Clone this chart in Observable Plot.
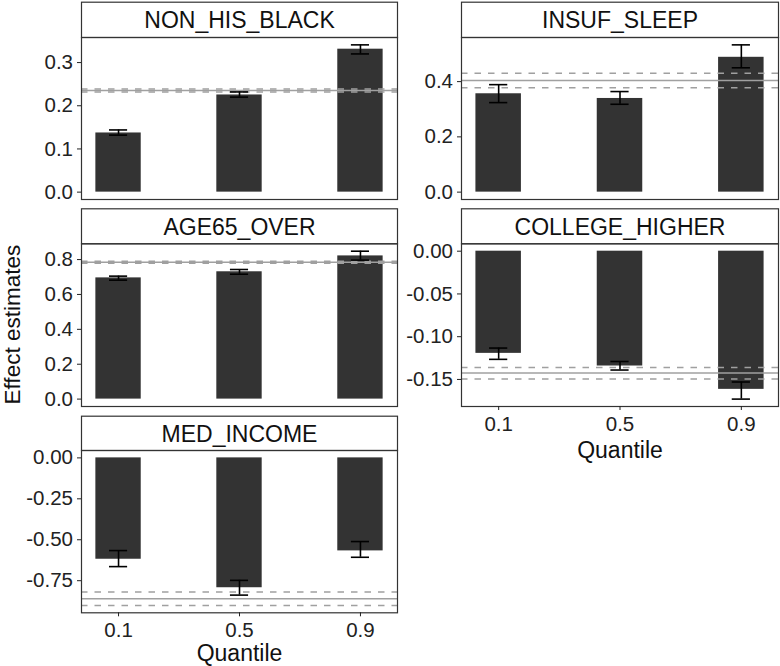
<!DOCTYPE html>
<html><head><meta charset="utf-8">
<script src="https://cdn.jsdelivr.net/npm/d3@7"></script>
<script src="https://cdn.jsdelivr.net/npm/@observablehq/plot@0.6"></script>
<style>
body{margin:0;background:#fff;}
#chart{position:relative;width:780px;height:666px;font-family:"Liberation Sans",Arial,Helvetica,sans-serif;}
#chart svg{position:absolute;}
</style></head><body><div id="chart"></div>
<script>
// ---- data ----
const quantiles = [0.1, 0.5, 0.9];
const quantileLabels = ["0.1", "0.5", "0.9"];
const variables = ["NON_HIS_BLACK", "INSUF_SLEEP", "AGE65_OVER", "COLLEGE_HIGHER", "MED_INCOME"];

const estNonHisBlack = [0.137, 0.225, 0.331];
const loNonHisBlack  = [0.132, 0.220, 0.320];
const hiNonHisBlack  = [0.144, 0.232, 0.341];

const estInsufSleep = [0.356, 0.339, 0.488];
const loInsufSleep  = [0.324, 0.318, 0.450];
const hiInsufSleep  = [0.389, 0.364, 0.533];

const estAge65 = [0.695, 0.730, 0.821];
const loAge65  = [0.682, 0.716, 0.797];
const hiAge65  = [0.705, 0.743, 0.848];

const estCollege = [-0.1195, -0.1343, -0.1616];
const loCollege  = [-0.1265, -0.1390, -0.1730];
const hiCollege  = [-0.1133, -0.1290, -0.1530];

const estIncome = [-0.619, -0.793, -0.568];
const loIncome  = [-0.664, -0.838, -0.607];
const hiIncome  = [-0.566, -0.748, -0.511];

// overall (non-quantile) estimate with its interval, one per variable
const overallEst = [0.2355, 0.404, 0.785, -0.1425, -0.860];
const overallLo  = [0.232, 0.378, 0.779, -0.1495, -0.901];
const overallHi  = [0.239, 0.430, 0.791, -0.136, -0.819];

const yTicks = [
  [0, 0.1, 0.2, 0.3],
  [0, 0.2, 0.4],
  [0, 0.2, 0.4, 0.6, 0.8],
  [0, -0.05, -0.10, -0.15],
  [0, -0.25, -0.50, -0.75]
];
const yDigits = [1, 1, 1, 2, 2];

const est = [estNonHisBlack, estInsufSleep, estAge65, estCollege, estIncome];
const lo = [loNonHisBlack, loInsufSleep, loAge65, loCollege, loIncome];
const hi = [hiNonHisBlack, hiInsufSleep, hiAge65, hiCollege, hiIncome];

// ---- layout ----
const layout = [
  {left: 0,   top: 0,   width: 398, height: 205, ml: 81, mr: 1, stripTop: 1.7,   plotTop: 37,    plotBottom: 199,   xAxis: false, qdy: 0},
  {left: 390, top: 0,   width: 390, height: 205, ml: 71, mr: 2, stripTop: 1.7,   plotTop: 37,    plotBottom: 199,   xAxis: false, qdy: 0},
  {left: 0,   top: 205, width: 398, height: 206, ml: 81, mr: 1, stripTop: 208.3, plotTop: 243.3, plotBottom: 406,   xAxis: false, qdy: 0},
  {left: 390, top: 205, width: 390, height: 461, ml: 71, mr: 2, stripTop: 208.3, plotTop: 243.3, plotBottom: 406,   xAxis: true,  qdy: 44},
  {left: 0,   top: 411, width: 398, height: 255, ml: 81, mr: 1, stripTop: 415.7, plotTop: 450,   plotBottom: 612.3, xAxis: true,  qdy: 40.5}
];

const FONT = '"Liberation Sans", Arial, Helvetica, sans-serif';
const barHalf = 0.075, capHalf = 0.03;
const xDomain = [0.025 - 0.0475, 0.975 + 0.0475];
const chart = document.getElementById("chart");

variables.forEach((name, i) => {
  const L = layout[i];
  const rows = quantiles.map((q, j) => ({q, est: est[i][j], lo: lo[i][j], hi: hi[i][j]}));
  const vals = [0, ...lo[i], ...hi[i], overallLo[i], overallHi[i]];
  const ymin = d3.min(vals), ymax = d3.max(vals), pad = (ymax - ymin) * 0.05;
  const plotH = L.plotBottom - L.plotTop;
  const stripH = L.plotTop - L.stripTop;
  const marks = [
    Plot.rectY(rows, {x1: d => d.q - barHalf, x2: d => d.q + barHalf, y1: 0, y2: "est", fill: "#333333"}),
    Plot.ruleY([overallEst[i]], {stroke: "#a0a0a0", strokeWidth: 1.5}),
    Plot.ruleY([overallLo[i], overallHi[i]], {stroke: "#a0a0a0", strokeWidth: 1.5, strokeDasharray: "6.5,7"}),
    Plot.ruleX(rows, {x: "q", y1: "lo", y2: "hi", stroke: "black", strokeWidth: 1.6}),
    Plot.ruleY(rows, {x1: d => d.q - capHalf, x2: d => d.q + capHalf, y: "lo", stroke: "black", strokeWidth: 1.6}),
    Plot.ruleY(rows, {x1: d => d.q - capHalf, x2: d => d.q + capHalf, y: "hi", stroke: "black", strokeWidth: 1.6}),
    Plot.axisY({ticks: yTicks[i], tickFormat: d => d.toFixed(yDigits[i]), tickSize: 4, tickPadding: 4.5,
                fontSize: 20.5, label: null, color: "#222"}),
    Plot.frame({stroke: "#333", strokeWidth: 1.2}),
    Plot.frame({stroke: "#333", strokeWidth: 1.2, insetTop: -stripH, insetBottom: plotH}),
    Plot.text([name], {text: d => d, frameAnchor: "top", lineAnchor: "middle", dy: -stripH / 2 + 1,
                       fontSize: 23, fill: "#111"})
  ];
  if (L.xAxis) {
    marks.push(Plot.axisX({ticks: quantiles, tickFormat: (d, k) => quantileLabels[k], tickSize: 4, tickPadding: 6,
                           fontSize: 20.5, label: null, color: "#222"}));
    marks.push(Plot.text(["Quantile"], {text: d => d, frameAnchor: "bottom", lineAnchor: "middle", dy: L.qdy,
                                        fontSize: 23, fill: "#111"}));
  }
  const svg = Plot.plot({
    width: L.width, height: L.height,
    marginLeft: L.ml, marginRight: L.mr,
    marginTop: L.plotTop - L.top,
    marginBottom: L.height - (L.plotBottom - L.top),
    style: {background: "transparent", overflow: "visible", fontFamily: FONT},
    x: {domain: xDomain, axis: null},
    y: {domain: [ymin - pad, ymax + pad], axis: null},
    marks
  });
  svg.style.left = L.left + "px";
  svg.style.top = L.top + "px";
  if (i === 2) {
    const cy = (L.plotTop + L.plotBottom) / 2 - L.top;
    d3.select(svg).append("text")
      .attr("transform", `translate(12,${cy}) rotate(-90)`)
      .attr("text-anchor", "middle")
      .attr("dominant-baseline", "central")
      .attr("font-size", 22.5)
      .attr("font-family", FONT)
      .attr("fill", "#111")
      .text("Effect estimates");
  }
  chart.appendChild(svg);
});
</script>
</body></html>
